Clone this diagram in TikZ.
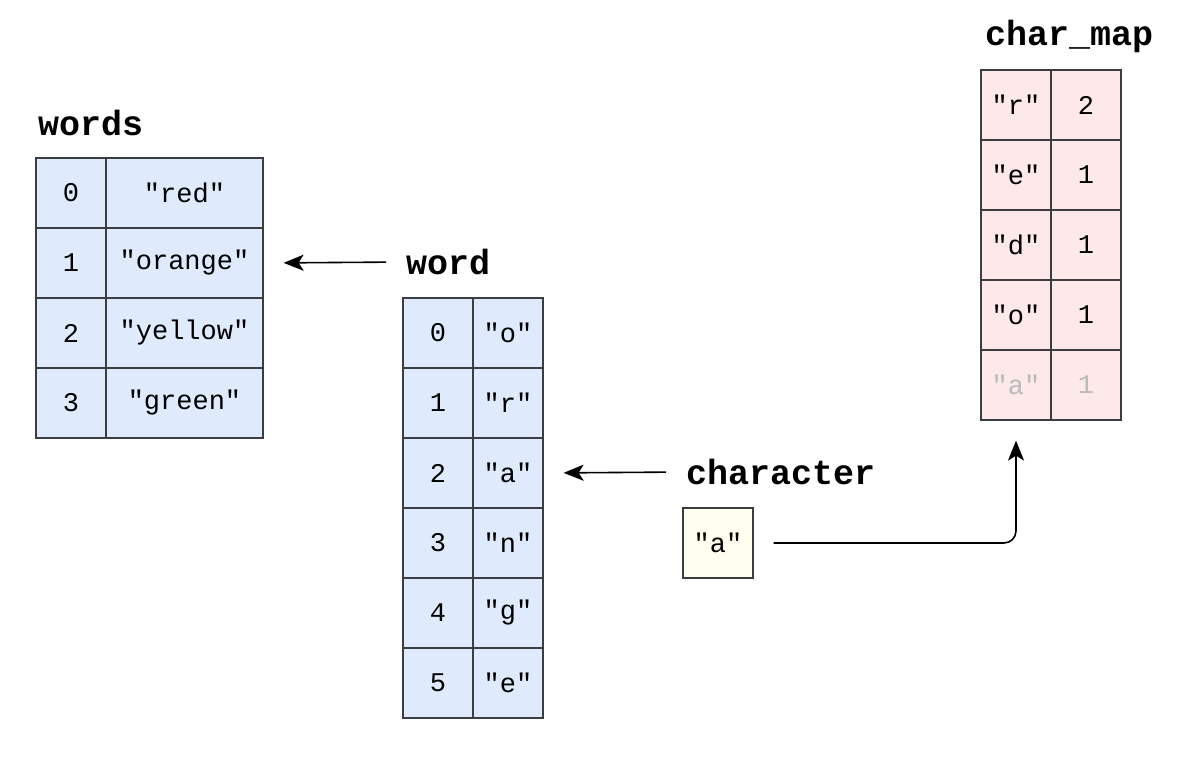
\documentclass[tikz,border=0pt]{standalone}
\usepackage{fontspec}
\setmonofont{Liberation Mono}
\usetikzlibrary{arrows.meta}
\definecolor{cellblue}{HTML}{DFEBFC}
\definecolor{cellpink}{HTML}{FDE9EA}
\definecolor{cellyellow}{HTML}{FEFEEE}
\definecolor{cellline}{HTML}{3B3D40}
\definecolor{fadetext}{HTML}{BBBBBB}

\tikzset{
  cell/.style={draw=cellline, line width=1.2pt, inner sep=0pt, minimum width=70pt, minimum height=70pt, font=\ttfamily\fontsize{27}{30}\selectfont},
  title/.style={anchor=west, inner sep=0pt, font=\ttfamily\bfseries\fontsize{35}{40}\selectfont},
  ptr/.style={-{Stealth[length=20pt,width=16pt,inset=5pt]}, line width=1.6pt, shorten <=20pt, shorten >=20pt}
}

\begin{document}
\begin{tikzpicture}[x=1pt,y=-1pt]
	\useasboundingbox (0,0) rectangle (1198,759);
	% words
	\node[title] (wordslbl) at (38,123) {words};
	\foreach \v [count=\i from 0] in {"red","orange","yellow","green"} {
		\node[cell, fill=cellblue] (wi\i) at (71,193+70*\i) {\i};
		\node[cell, fill=cellblue, minimum width=157pt] (wv\i) at (184.5,193+70*\i) {\v};
	}
	% word
	\node[title] (wordlbl) at (406,262) {word};
	\foreach \v [count=\i from 0] in {"o","r","a","n","g","e"} {
		\node[cell, fill=cellblue] (ci\i) at (438,333+70*\i) {\i};
		\node[cell, fill=cellblue] (cv\i) at (508,333+70*\i) {\v};
	}
	% char_map
	\node[title] (maplbl) at (985,36) {char\_map};
	\foreach \k/\n [count=\i from 0] in {"r"/2,"e"/1,"d"/1,"o"/1} {
		\node[cell, fill=cellpink] (mk\i) at (1016,105+70*\i) {\k};
		\node[cell, fill=cellpink] (mv\i) at (1086,105+70*\i) {\n};
	}
	\node[cell, fill=cellpink, text=fadetext] (mk4) at (1016,385) {"a"};
	\node[cell, fill=cellpink, text=fadetext] (mv4) at (1086,385) {1};
	% character
	\node[title] (chrlbl) at (686,472) {character};
	\node[cell, fill=cellyellow] (chr) at (718,543) {"a"};
	% pointers
	\draw[ptr] (wordlbl.west) -- (wv1.east);
	\draw[ptr] (chrlbl.west) -- (cv2.east);
	\draw[ptr, rounded corners=12pt] (chr.east) -| (mk4.south);
\end{tikzpicture}
\end{document}
